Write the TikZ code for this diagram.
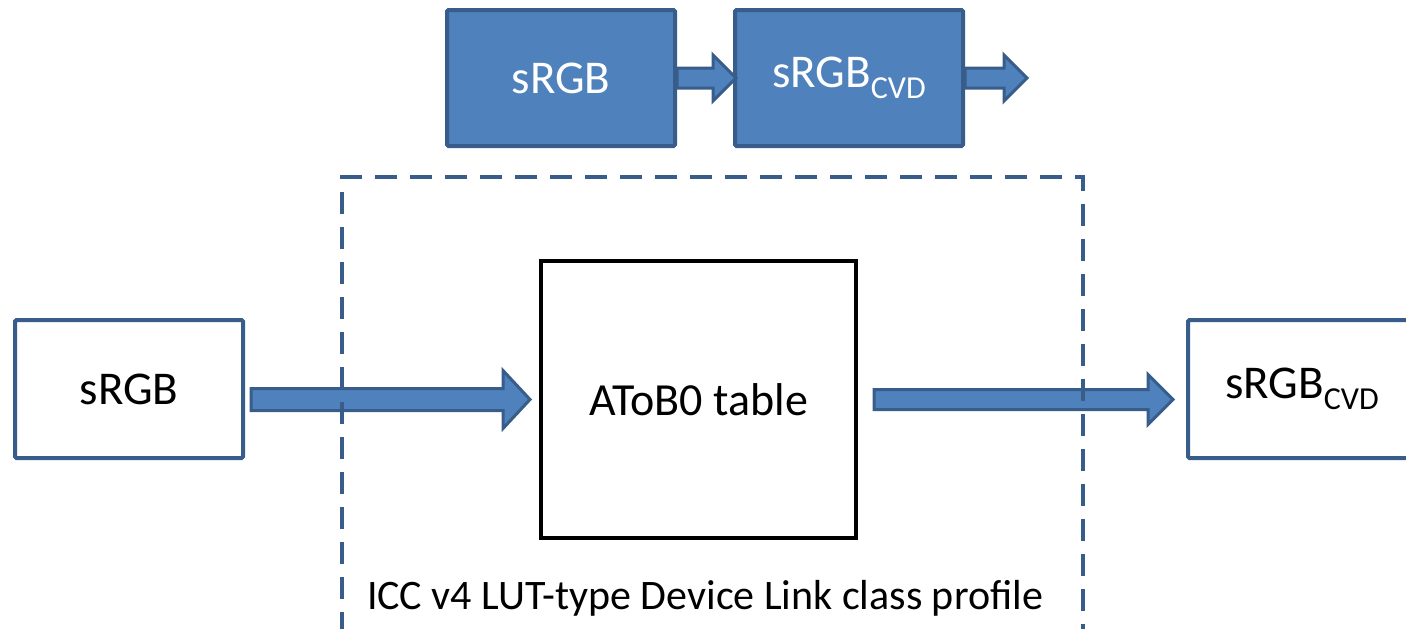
\documentclass[tikz,border=0pt]{standalone}
\usepackage{fontspec}
\setmainfont{Carlito}
\usetikzlibrary{calc}
\definecolor{bfill}{HTML}{4F81BD}
\definecolor{bline}{HTML}{385D8A}
\tikzset{
  bluebox/.style={draw=bline, fill=bfill, line width=4pt, rounded corners=1.5pt, minimum width=228pt, minimum height=136pt, inner sep=0pt, text=white, font=\fontsize{47}{50}\selectfont},
  whitebox/.style={draw=bline, fill=white, line width=4pt, rounded corners=1.5pt, minimum width=228pt, minimum height=138pt, inner sep=0pt, text=black, font=\fontsize{47}{50}\selectfont},
  tablebox/.style={draw=black, fill=white, line width=4pt, minimum width=315pt, minimum height=277pt, inner sep=0pt, font=\fontsize{46}{50}\selectfont},
  dashedbox/.style={draw=bline, line width=3.5pt, dash pattern=on 22pt off 13pt, minimum width=741pt, minimum height=463pt, inner sep=0pt},
  barrow/.style={draw=bline, fill=bfill, line width=3pt, line join=miter}
}
\newcommand\blockarrow[5]{%
  \filldraw[barrow] let \p1=(#1), \p2=(#2) in
    (\x1,\y1+#3) -- (\x2-#5,\y1+#3) -- (\x2-#5,\y1+#4) -- (\x2,\y1)
    -- (\x2-#5,\y1-#4) -- (\x2-#5,\y1-#3) -- (\x1,\y1-#3) -- cycle;}
\newcommand\cvd{sRGB\raisebox{-0.24em}{\fontsize{32}{32}\selectfont CVD}}
\begin{document}
\begin{tikzpicture}[x=1pt,y=-1pt]
\useasboundingbox (0,0) rectangle (1406,629);
\clip (0,0) rectangle (1406,629);
% top row
\node[bluebox] (top1) at (561,78) {sRGB};
\node[bluebox] (top2) at (849,78) {\cvd};
\coordinate (topout) at (1027,78);
\blockarrow{top1.east}{$(top2.west)+(3,0)$}{10pt}{23pt}{23pt}
\blockarrow{top2.east}{topout}{10pt}{23pt}{23pt}
% main row
\node[whitebox] (src) at (129,389) {sRGB};
\node[tablebox] (atob) at (698.5,399.5) {AToB0 table};
\node[whitebox] (dst) at (1302,389) {\cvd};
\blockarrow{$(src.east |- atob.west)+(6,0)$}{$(atob.west)+(-9,0)$}{11pt}{29pt}{27pt}
\blockarrow{$(atob.east)+(16,0)$}{$(dst.west |- atob.east)+(-13,0)$}{10pt}{25pt}{25pt}
% profile container (drawn over the arrows)
\node[dashedbox] (profile) at (712.5,408.5) {};
\node[font=\fontsize{42}{46}\selectfont, anchor=base] (plabel) at (705,609) {ICC v4 LUT-type Device Link class profile};
\end{tikzpicture}
\end{document}
